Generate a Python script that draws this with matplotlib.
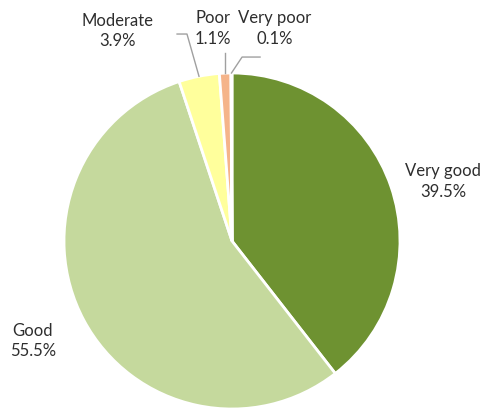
import numpy as np
import matplotlib
matplotlib.use("Agg")
import matplotlib.pyplot as plt

categories = ["Very good", "Good", "Moderate", "Poor", "Very poor"]
shares = [39.5, 55.5, 3.9, 1.1, 0.1]
colors = ["#6e9231", "#c5d99d", "#ffff9c", "#f5b48a", "#e6a27c"]

fig = plt.figure(figsize=(5.0, 4.09), dpi=100)
ax = fig.add_axes([0.128, 0.0, 0.672, 0.8215])

wedges, _ = ax.pie(shares, colors=colors, startangle=90, counterclock=False,
                   radius=1.0,
                   wedgeprops=dict(edgecolor="white", linewidth=2))
ax.set_xlim(-1, 1)
ax.set_ylim(-1, 1)
ax.set_aspect("equal")
ax.axis("off")

font = dict(family=["Lato", "DejaVu Sans"], fontsize=12, color="#2e2e2e",
            ha="center", va="center", linespacing=1.35)
label_pos = {
    "Very good": (1.256, 0.355),
    "Good": (-1.185, -0.595),
    "Moderate": (-0.68, 1.25),
    "Poor": (-0.113, 1.265),
    "Very poor": (0.256, 1.265),
}
for cat, val in zip(categories, shares):
    x, y = label_pos[cat]
    ax.text(x, y, f"{cat}\n{val:.1f}%", clip_on=False, **font)

# leader lines for the thin wedges at the top
total = sum(shares)
cum = np.cumsum([0] + shares)
def edge_point(i):
    frac = (cum[i] + shares[i] / 2) / total
    ang = np.deg2rad(90 - 360 * frac)
    return np.cos(ang), np.sin(ang)

line_kw = dict(color="#a0a0a0", lw=1.0, clip_on=False)
mx, my = edge_point(2)
ax.plot([-0.327, -0.268, mx], [1.232, 1.232, my], **line_kw)
px, py = edge_point(3)
ax.plot([px, px], [py, 1.12], **line_kw)
vx, vy = edge_point(4)
ax.plot([vx, 0.06, 0.167], [vy, 1.095, 1.095], **line_kw)

fig.savefig("out.png", dpi=100)
